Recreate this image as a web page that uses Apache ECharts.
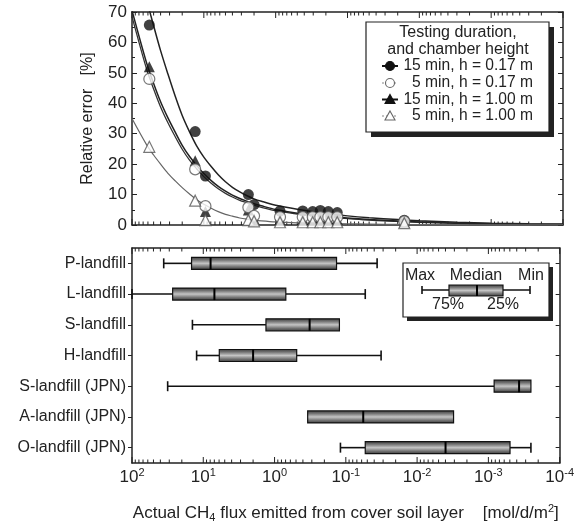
<!DOCTYPE html>
<html><head><meta charset="utf-8">
<script src="https://cdn.jsdelivr.net/npm/echarts@6/dist/echarts.min.js"></script>
<style>html,body{margin:0;padding:0;background:#fff}#c{width:577px;height:526px}</style>
</head><body><div id="c"></div>
<script>
// ---------- DATA ----------
// Top panel: measured relative errors [%] vs actual CH4 flux [mol/d/m2]
const pointFlux = [57.4, 13.2, 9.5, 2.4, 2.0, 0.87, 0.42, 0.305, 0.239, 0.185, 0.139, 0.0162];
const err15_017 = [65.7, 30.7, 16.1, 10.0, 6.7, 4.6, 4.6, 4.4, 4.8, 4.4, 4.1, 1.6];
const err5_017  = [48.0, 18.3, 6.2, 5.8, 3.0, 2.6, 2.6, 2.6, 2.6, 2.6, 2.6, 1.2];
const err15_100 = [52.0, 21.1, 4.4, 4.9, 2.0, 1.8, 1.8, 1.8, 1.8, 1.8, 1.8, 0.9];
const err5_100  = [25.7, 8.0, 1.6, 1.6, 1.2, 0.9, 0.9, 0.9, 0.9, 0.9, 0.9, 0.6];
// Fitted curves
const curveFlux = [100, 63.1, 50, 40, 31.6, 25, 20, 15.8, 12.6, 10, 7.9, 6.3, 5, 4, 3.16, 2.5, 2, 1.58, 1, 0.5, 0.2, 0.1, 0.05, 0.02, 0.01, 0.003, 0.001, 0.0003, 0.0001];
const fit15_017 = [97, 74.5, 65.5, 57.3, 49.6, 42.3, 36, 30.6, 26, 22.3, 19.2, 16.5, 14.2, 12.4, 10.9, 9.6, 8.6, 7.8, 6.5, 5.2, 3.8, 3.0, 2.4, 1.8, 1.4, 0.9, 0.6, 0.4, 0.3];
const fit15_100 = [70.5, 53.5, 46.5, 40.5, 35.2, 30.5, 26.2, 22.5, 19.6, 16.9, 14.6, 12.7, 11.1, 9.8, 8.7, 7.8, 7.0, 6.3, 5.1, 3.9, 2.9, 2.3, 1.8, 1.3, 1.0, 0.6, 0.4, 0.25, 0.15];
const fit5_017  = [68.5, 51.5, 44.7, 38.8, 33.6, 29, 24.9, 21.3, 18.5, 15.9, 13.7, 11.9, 10.4, 9.2, 8.1, 7.3, 6.5, 5.8, 4.7, 3.6, 2.6, 2.1, 1.6, 1.2, 0.9, 0.55, 0.35, 0.2, 0.12];
const fit5_100  = [35, 26.5, 23, 20, 17, 14.5, 12.3, 10.2, 8.3, 6.8, 5.5, 4.4, 3.5, 2.9, 2.3, 1.9, 1.6, 1.35, 1.0, 0.7, 0.5, 0.4, 0.3, 0.2, 0.15, 0.1, 0.07, 0.05, 0.03];
const seriesNames = ['15 min, h = 0.17 m', ' 5 min, h = 0.17 m', '15 min, h = 1.00 m', ' 5 min, h = 1.00 m'];

// Bottom panel: flux distribution per landfill [mol/d/m2]
const landfills = ['P-landfill', 'L-landfill', 'S-landfill', 'H-landfill', 'S-landfill (JPN)', 'A-landfill (JPN)', 'O-landfill (JPN)'];
const fluxMax = [35.9, 100, 14.2, 12.4, 31.6, null, 0.119];
const flux75  = [14.6, 26.9, 1.32, 5.96, 0.00083, 0.343, 0.0534];
const fluxMed = [7.9, 6.98, 0.322, 2.0, 0.000371, 0.057, 0.00399];
const flux25  = [0.135, 0.695, 0.123, 0.489, 0.000253, 0.00308, 0.000497];
const fluxMin = [0.0364, 0.0534, null, 0.032, null, null, 0.000253];

// Axis ticks
const yTicksTop = [0, 10, 20, 30, 40, 50, 60, 70];
const decades = [1e-4, 1e-3, 1e-2, 1e-1, 1, 10, 100];
const decadeExp = {'0.0001': '-4', '0.001': '-3', '0.01': '-2', '0.1': '-1', '1': '0', '10': '1', '100': '2'};
const minorTicks = [];
decades.slice(0, -1).forEach(d => { for (let k = 2; k <= 9; k++) minorTicks.push(+(k * d).toPrecision(3)); });
const xTickValues = decades.concat(minorTicks);

// ---------- CHART ----------
const FONT = 'Liberation Sans, Arial, sans-serif';
const TXT = '#222';
const LINE = '#222';
const chart = echarts.init(document.getElementById('c'), null, {renderer: 'canvas'});

const boxGrad = () => new echarts.graphic.LinearGradient(0, 0, 0, 1, [
  {offset: 0, color: '#3a3a3a'}, {offset: 0.22, color: '#6e6e6e'},
  {offset: 0.5, color: '#c4c4c4'}, {offset: 0.78, color: '#6e6e6e'}, {offset: 1, color: '#3a3a3a'}]);

function logAxis(grid, pos, labels) {
  return {
    type: 'log', gridIndex: grid, position: pos, min: 1e-4, max: 100, inverse: true, logBase: 10,
    axisLine: {show: true, onZero: false, lineStyle: {color: LINE, width: 1.5}},
    axisTick: {show: false},
    axisLabel: labels ? {
      show: true, customValues: decades, margin: 4, fontFamily: FONT, color: TXT,
      formatter: v => '{b|10}{s|' + decadeExp[String(+v.toPrecision(3))] + '}',
      rich: {b: {fontSize: 17, fontFamily: FONT, color: TXT}, s: {fontSize: 11, fontFamily: FONT, color: TXT, padding: [0, 0, 9, 0]}}
    } : {show: false},
    splitLine: {show: false}, minorTick: {show: false}, minorSplitLine: {show: false}
  };
}

const xAxes = [
  logAxis(0, 'bottom', false),
  logAxis(0, 'top', false),
  logAxis(1, 'bottom', true),
  logAxis(1, 'top', false)
];
xAxes[2].name = '{n|Actual CH}{sub|4}{n| flux emitted from cover soil layer    [mol/d/m}{sup|2}{n|]}';
xAxes[2].nameLocation = 'middle';
xAxes[2].nameGap = 40;
xAxes[2].nameTextStyle = {
  fontFamily: FONT, color: TXT, fontSize: 17,
  rich: {n: {fontSize: 17, fontFamily: FONT, color: TXT},
         sub: {fontSize: 11, fontFamily: FONT, color: TXT, padding: [9, 0, 0, 0]},
         sup: {fontSize: 11, fontFamily: FONT, color: TXT, padding: [0, 0, 9, 0]}}
};

function valAxisTop(pos, labels) {
  return {
    type: 'value', gridIndex: 0, position: pos, min: 0, max: 70, interval: 10,
    axisLine: {show: true, lineStyle: {color: LINE, width: 1.5}},
    axisTick: {show: true, inside: true, length: 5, lineStyle: {color: LINE}},
    minorTick: {show: true, splitNumber: 2, length: 3, lineStyle: {color: LINE}},
    axisLabel: labels ? {show: true, fontSize: 17, fontFamily: FONT, color: TXT, margin: 5,
      customValues: yTicksTop} : {show: false},
    splitLine: {show: false}, minorSplitLine: {show: false}
  };
}
const yAxes = [valAxisTop('left', true), valAxisTop('right', false)];
yAxes[0].name = 'Relative error   [%]';
yAxes[0].nameLocation = 'middle';
yAxes[0].nameGap = 36;
yAxes[0].nameRotate = 90;
yAxes[0].nameTextStyle = {fontSize: 16, fontFamily: FONT, color: TXT};

function catAxis(pos, labels) {
  return {
    type: 'category', gridIndex: 1, position: pos, data: landfills, inverse: true,
    axisLine: {show: true, lineStyle: {color: LINE, width: 1.5}},
    axisTick: {show: true, alignWithLabel: true, inside: !labels, length: 4, lineStyle: {color: LINE}},
    axisLabel: labels ? {show: true, fontSize: 16, fontFamily: FONT, color: TXT, margin: 6} : {show: false},
    splitLine: {show: false}
  };
}
yAxes.push(catAxis('left', true), catAxis('right', false));

const boxData = landfills.map((c, i) => [i,
  fluxMax[i] == null ? NaN : fluxMax[i], flux75[i], fluxMed[i], flux25[i],
  fluxMin[i] == null ? NaN : fluxMin[i]]);

function renderBox(params, api) {
  const ci = api.value(0);
  const vMax = api.value(1), v75 = api.value(2), vMed = api.value(3), v25 = api.value(4), vMin = api.value(5);
  const y = api.coord([1, ci])[1];
  const h = 12, cap = 10;
  const px = v => api.coord([v, ci])[0];
  const children = [];
  const seg = (x1, x2) => ({type: 'line', shape: {x1: x1, y1: y, x2: x2, y2: y}, style: {stroke: '#111', lineWidth: 1.6}});
  const capL = x => ({type: 'line', shape: {x1: x, y1: y - cap / 2, x2: x, y2: y + cap / 2}, style: {stroke: '#111', lineWidth: 1.6}});
  const xb1 = px(v75), xb2 = px(v25);
  if (!isNaN(vMax)) { children.push(seg(px(vMax), xb1), capL(px(vMax))); }
  if (!isNaN(vMin)) { children.push(seg(xb2, px(vMin)), capL(px(vMin))); }
  children.push({type: 'rect', shape: {x: xb1, y: y - h / 2, width: xb2 - xb1, height: h},
    style: {fill: boxGrad(), stroke: '#111', lineWidth: 1.2}});
  const xm = px(vMed);
  children.push({type: 'line', shape: {x1: xm, y1: y - h / 2, x2: xm, y2: y + h / 2}, style: {stroke: '#000', lineWidth: 2}});
  return {type: 'group', children: children};
}

// x-axis tick marks (log major + minor) drawn on both frame edges of each panel
function renderXTicks(params, api) {
  const v = api.value(0);
  const cs = params.coordSys;
  const x = api.coord([v, 0])[0];
  const major = decades.indexOf(v) >= 0;
  const len = major ? 6 : 3.5;
  const st = {stroke: LINE, lineWidth: 1};
  return {type: 'group', children: [
    {type: 'line', shape: {x1: x, y1: cs.y + cs.height, x2: x, y2: cs.y + cs.height - len}, style: st},
    {type: 'line', shape: {x1: x, y1: cs.y, x2: x, y2: cs.y + len}, style: st}
  ]};
}
const tickData = xTickValues.map(v => [v]);

const series = [
  {name: 'ticks top', type: 'custom', xAxisIndex: 0, yAxisIndex: 0, data: tickData, encode: {x: 0},
   renderItem: renderXTicks, clip: false, silent: true, z: 1},
  {name: 'ticks bottom', type: 'custom', xAxisIndex: 2, yAxisIndex: 2, data: tickData, encode: {x: 0},
   renderItem: renderXTicks, clip: false, silent: true, z: 1},
  {name: seriesNames[0] + ' fit', type: 'line', xAxisIndex: 0, yAxisIndex: 0, data: curveFlux.map((x, i) => [x, fit15_017[i]]),
   smooth: 0.3, showSymbol: false, symbol: 'none', lineStyle: {color: '#222', width: 1.5}, clip: true, silent: true, z: 2},
  {name: seriesNames[1] + ' fit', type: 'line', xAxisIndex: 0, yAxisIndex: 0, data: curveFlux.map((x, i) => [x, fit5_017[i]]),
   smooth: 0.3, showSymbol: false, symbol: 'none', lineStyle: {color: '#333', width: 1.3}, clip: true, silent: true, z: 2},
  {name: seriesNames[2] + ' fit', type: 'line', xAxisIndex: 0, yAxisIndex: 0, data: curveFlux.map((x, i) => [x, fit15_100[i]]),
   smooth: 0.3, showSymbol: false, symbol: 'none', lineStyle: {color: '#222', width: 1.5}, clip: true, silent: true, z: 2},
  {name: seriesNames[3] + ' fit', type: 'line', xAxisIndex: 0, yAxisIndex: 0, data: curveFlux.map((x, i) => [x, fit5_100[i]]),
   smooth: 0.3, showSymbol: false, symbol: 'none', lineStyle: {color: '#666', width: 1.2}, clip: true, silent: true, z: 2},
  {name: seriesNames[0], type: 'scatter', xAxisIndex: 0, yAxisIndex: 0, data: pointFlux.map((x, i) => [x, err15_017[i]]),
   symbol: 'circle', symbolSize: 11, itemStyle: {color: '#111'}, z: 3},
  {name: seriesNames[2], type: 'scatter', xAxisIndex: 0, yAxisIndex: 0, data: pointFlux.map((x, i) => [x, err15_100[i]]),
   symbol: 'triangle', symbolSize: 11, itemStyle: {color: '#111'}, z: 4},
  {name: seriesNames[1], type: 'scatter', xAxisIndex: 0, yAxisIndex: 0, data: pointFlux.map((x, i) => [x, err5_017[i]]),
   symbol: 'circle', symbolSize: 11, itemStyle: {color: '#fff', borderColor: '#555', borderWidth: 1.2}, z: 5},
  {name: seriesNames[3], type: 'scatter', xAxisIndex: 0, yAxisIndex: 0, data: pointFlux.map((x, i) => [x, err5_100[i]]),
   symbol: 'triangle', symbolSize: 11, itemStyle: {color: '#fff', borderColor: '#555', borderWidth: 1.2}, z: 6},
  {name: 'Landfill flux', type: 'custom', xAxisIndex: 2, yAxisIndex: 2, data: boxData,
   encode: {x: [1, 2, 3, 4, 5], y: 0}, renderItem: renderBox, clip: false, z: 3}
];

// Legend graphics (layout only)
const LF = '15.6px ' + FONT;
const tLeg = {x: 366, y: 22, w: 183, h: 110};
const legRows = [66, 83, 99.5, 116];
const legendTop = [
  {type: 'rect', shape: {x: tLeg.x + 5, y: tLeg.y + 5, width: tLeg.w, height: tLeg.h}, style: {fill: '#222'}, z: 10},
  {type: 'rect', shape: {x: tLeg.x, y: tLeg.y, width: tLeg.w, height: tLeg.h}, style: {fill: '#fff', stroke: '#222', lineWidth: 1.2}, z: 11},
  {type: 'text', x: 458, y: 33, style: {text: 'Testing duration,', font: '16px ' + FONT, fill: TXT, textAlign: 'center', textVerticalAlign: 'middle'}, z: 12},
  {type: 'text', x: 458, y: 50, style: {text: 'and chamber height', font: '16px ' + FONT, fill: TXT, textAlign: 'center', textVerticalAlign: 'middle'}, z: 12}
];
const legSym = ['circle', 'circle', 'triangle', 'triangle'];
const legFill = ['#111', '#fff', '#111', '#fff'];
seriesNames.forEach((n, i) => {
  const y = legRows[i];
  const solid = i % 2 === 0;
  legendTop.push({type: 'line', shape: {x1: 382, y1: y, x2: 398, y2: y},
    style: {stroke: solid ? '#111' : '#888', lineWidth: solid ? 2 : 1.2, lineDash: solid ? null : [2, 2]}, z: 12});
  if (legSym[i] === 'circle') {
    legendTop.push({type: 'circle', shape: {cx: 390, cy: y, r: 4.5}, style: {fill: legFill[i], stroke: solid ? '#111' : '#666', lineWidth: 1.1}, z: 13});
  } else {
    legendTop.push({type: 'polygon', shape: {points: [[390, y - 5], [395, y + 4], [385, y + 4]]}, style: {fill: legFill[i], stroke: solid ? '#111' : '#666', lineWidth: 1.1}, z: 13});
  }
  legendTop.push({type: 'text', x: 533, y: y, style: {text: n, font: LF, fill: TXT, textAlign: 'right', textVerticalAlign: 'middle'}, z: 12});
});

const bLeg = {x: 403, y: 263, w: 146, h: 54};
const legendBottom = [
  {type: 'rect', shape: {x: bLeg.x + 4, y: bLeg.y + 4, width: bLeg.w, height: bLeg.h}, style: {fill: '#222'}, z: 10},
  {type: 'rect', shape: {x: bLeg.x, y: bLeg.y, width: bLeg.w, height: bLeg.h}, style: {fill: '#fff', stroke: '#222', lineWidth: 1.2}, z: 11},
  {type: 'text', x: 420, y: 276, style: {text: 'Max', font: '16px ' + FONT, fill: TXT, textAlign: 'center', textVerticalAlign: 'middle'}, z: 12},
  {type: 'text', x: 476, y: 276, style: {text: 'Median', font: '16px ' + FONT, fill: TXT, textAlign: 'center', textVerticalAlign: 'middle'}, z: 12},
  {type: 'text', x: 531, y: 276, style: {text: 'Min', font: '16px ' + FONT, fill: TXT, textAlign: 'center', textVerticalAlign: 'middle'}, z: 12},
  {type: 'text', x: 448, y: 305, style: {text: '75%', font: '16px ' + FONT, fill: TXT, textAlign: 'center', textVerticalAlign: 'middle'}, z: 12},
  {type: 'text', x: 503, y: 305, style: {text: '25%', font: '16px ' + FONT, fill: TXT, textAlign: 'center', textVerticalAlign: 'middle'}, z: 12},
  {type: 'line', shape: {x1: 422, y1: 290, x2: 530, y2: 290}, style: {stroke: '#111', lineWidth: 1.6}, z: 12},
  {type: 'line', shape: {x1: 422, y1: 286, x2: 422, y2: 294}, style: {stroke: '#111', lineWidth: 1.6}, z: 12},
  {type: 'line', shape: {x1: 530, y1: 286, x2: 530, y2: 294}, style: {stroke: '#111', lineWidth: 1.6}, z: 12},
  {type: 'rect', shape: {x: 449, y: 285, width: 54, height: 11}, style: {fill: boxGrad(), stroke: '#111', lineWidth: 1.2}, z: 13},
  {type: 'line', shape: {x1: 477, y1: 285, x2: 477, y2: 296}, style: {stroke: '#000', lineWidth: 2}, z: 14}
];

chart.setOption({
  backgroundColor: '#fff',
  animation: false,
  textStyle: {fontFamily: FONT},
  grid: [
    {left: 132, top: 12, width: 431, height: 213, containLabel: false},
    {left: 132, top: 248, width: 431, height: 215, containLabel: false}
  ],
  xAxis: xAxes,
  yAxis: yAxes,
  series: series,
  graphic: legendTop.concat(legendBottom)
});
</script></body></html>
